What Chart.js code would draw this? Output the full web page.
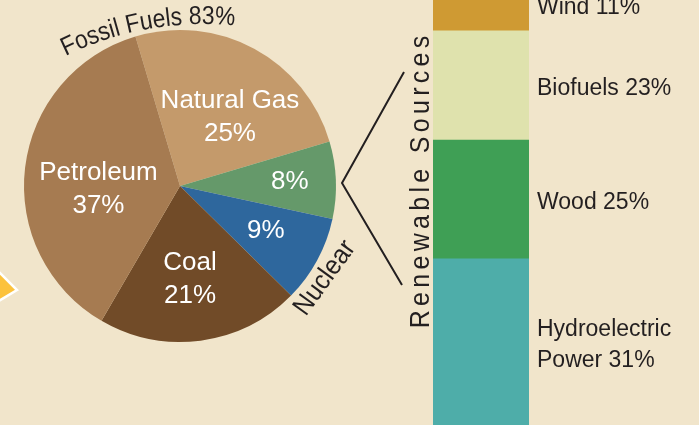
<!DOCTYPE html>
<html>
<head>
<meta charset="utf-8">
<script src="https://cdn.jsdelivr.net/npm/chart.js@4.4.1/dist/chart.umd.min.js"></script>
<style>
  html, body { margin: 0; padding: 0; background: #f1e5cb; overflow: hidden; }
  #wrap { position: relative; width: 699px; height: 425px; }
  #wrap canvas { position: absolute; left: 0; top: 0; }
</style>
</head>
<body>
<div id="wrap">
  <canvas id="pieChart" width="699" height="425"></canvas>
  <canvas id="barChart" width="699" height="425"></canvas>
</div>
<script>
// energy mix (pie), clockwise from the top
const energyLabels = ['Natural Gas', 'Renewable', 'Nuclear', 'Coal', 'Petroleum'];
const energyShares = [25, 8, 9, 21, 37];
const energyColors = ['#c49a6b', '#65996a', '#2e679d', '#714b28', '#a67b51'];
const energyNameShown = [true, false, false, true, true];

// renewable breakdown (stacked bar), bottom to top
const renewableLabels = [['Hydroelectric', 'Power'], ['Wood'], ['Biofuels'], ['Wind']];
const renewableShares = [31, 25, 23, 11];
const renewableColors = ['#4eada9', '#3f9f55', '#dfe2ad', '#cf9a33'];

const fossilTitle = 'Fossil Fuels 83%';
const nuclearTitle = 'Nuclear';
const renewableTitle = 'Renewable Sources';

const FONT = '"Liberation Sans", Arial, sans-serif';
const INK = '#231f20';

// where each slice label sits: fraction of radius, nudge in degrees
const sliceLabelPos = [
  { r: 0.545, turn: 7.6 },
  { r: 0.705, turn: 0.2 },
  { r: 0.62, turn: -1.0 },
  { r: 0.603, turn: 1.5 },
  { r: 0.523, turn: -8.9 }
];

// text along a circle, squeezed a little to look like a condensed face
function drawArcText(ctx, text, ox, oy, radius, midAngle, squeeze) {
  const widths = [...text].map(ch => ctx.measureText(ch).width * squeeze);
  const total = widths.reduce((a, b) => a + b, 0);
  let acc = 0;
  const start = midAngle - total / 2 / radius;
  [...text].forEach((ch, i) => {
    const th = start + (acc + widths[i] / 2) / radius;
    ctx.save();
    ctx.translate(ox + Math.cos(th) * radius, oy + Math.sin(th) * radius);
    ctx.rotate(th + Math.PI / 2);
    ctx.scale(squeeze, 1);
    ctx.fillText(ch, 0, 0);
    ctx.restore();
    acc += widths[i];
  });
}

const pieDecor = {
  id: 'pieDecor',
  afterDatasetsDraw(chart) {
    const ctx = chart.ctx;
    const arcs = chart.getDatasetMeta(0).data;
    const cx = arcs[0].x, cy = arcs[0].y, R = arcs[0].outerRadius;
    ctx.save();

    // slice labels
    ctx.fillStyle = '#ffffff';
    ctx.font = '26px ' + FONT;
    ctx.textAlign = 'center';
    ctx.textBaseline = 'middle';
    arcs.forEach((arc, i) => {
      const pos = sliceLabelPos[i];
      const a = (arc.startAngle + arc.endAngle) / 2 + pos.turn * Math.PI / 180;
      const x = cx + Math.cos(a) * R * pos.r;
      const y = cy + Math.sin(a) * R * pos.r;
      const lines = energyNameShown[i]
        ? [energyLabels[i], energyShares[i] + '%']
        : [energyShares[i] + '%'];
      lines.forEach((t, k) => ctx.fillText(t, x, y + (k - (lines.length - 1) / 2) * 33));
    });

    // curved "Fossil Fuels" title
    ctx.fillStyle = INK;
    ctx.font = '26px ' + FONT;
    ctx.textAlign = 'center';
    ctx.textBaseline = 'alphabetic';
    drawArcText(ctx, fossilTitle, cx + 24, cy + 154, 316, (-90 - 10.2) * Math.PI / 180, 0.88);

    // "Nuclear" along the lower right
    ctx.save();
    ctx.translate(cx + 145, cy + 92);
    ctx.rotate(-54 * Math.PI / 180);
    ctx.scale(0.92, 1);
    ctx.font = '27px ' + FONT;
    ctx.textBaseline = 'middle';
    ctx.fillText(nuclearTitle, 0, 0);
    ctx.restore();

    // bracket to the renewable bar
    ctx.strokeStyle = INK;
    ctx.lineWidth = 2;
    ctx.beginPath();
    ctx.moveTo(cx + 224, cy - 114);
    ctx.lineTo(cx + 162, cy - 3);
    ctx.lineTo(cx + 222, cy + 99);
    ctx.stroke();

    // yellow pointer at the left edge
    ctx.fillStyle = '#fcc23c';
    ctx.strokeStyle = '#ffffff';
    ctx.lineWidth = 2.5;
    ctx.beginPath();
    ctx.moveTo(-8, 265);
    ctx.lineTo(17, 290);
    ctx.lineTo(-8, 305);
    ctx.closePath();
    ctx.fill();
    ctx.stroke();

    ctx.restore();
  }
};

const barDecor = {
  id: 'barDecor',
  afterDatasetsDraw(chart) {
    const ctx = chart.ctx;
    ctx.save();
    ctx.fillStyle = INK;
    ctx.font = '23px ' + FONT;
    ctx.textAlign = 'left';
    ctx.textBaseline = 'middle';
    let barLeft = 0;
    chart.data.datasets.forEach((ds, i) => {
      const bar = chart.getDatasetMeta(i).data[0];
      const right = bar.x + bar.width / 2;
      barLeft = bar.x - bar.width / 2;
      const mid = (bar.y + bar.base) / 2 + 3;
      const lines = renewableLabels[i].slice();
      lines[lines.length - 1] += ' ' + renewableShares[i] + '%';
      lines.forEach((t, k) => ctx.fillText(t, right + 8, mid + (k - (lines.length - 1) / 2) * 31));
    });

    // spaced vertical title
    ctx.font = '25px ' + FONT;
    ctx.textAlign = 'left';
    const spacing = 4.3;
    const chars = [...renewableTitle];
    const widths = chars.map(ch => ctx.measureText(ch).width);
    const total = widths.reduce((a, b) => a + b, 0) + spacing * (chars.length - 1);
    ctx.translate(barLeft - 12, chart.chartArea.top + 182);
    ctx.rotate(-Math.PI / 2);
    ctx.scale(1, 1.12);
    let x = -total / 2;
    chars.forEach((ch, i) => {
      ctx.fillText(ch, x, 0);
      x += widths[i] + spacing;
    });
    ctx.restore();
  }
};

new Chart(document.getElementById('pieChart'), {
  type: 'pie',
  data: {
    labels: energyLabels,
    datasets: [{
      data: energyShares,
      backgroundColor: energyColors,
      borderWidth: 0,
      hoverOffset: 0
    }]
  },
  options: {
    responsive: false,
    animation: false,
    events: [],
    rotation: -16.6,
    layout: { padding: { left: 24, top: 30, right: 363, bottom: 83 } },
    plugins: { legend: { display: false }, tooltip: { enabled: false } }
  },
  plugins: [pieDecor]
});

new Chart(document.getElementById('barChart'), {
  type: 'bar',
  data: {
    labels: ['Renewable Sources'],
    datasets: renewableShares.map((v, i) => Object.assign({
      label: renewableLabels[i].join(' '),
      data: [v],
      backgroundColor: renewableColors[i],
      borderWidth: 0,
      barPercentage: 1,
      categoryPercentage: 1
    }, i === 0 ? { base: -4 } : {}))
  },
  options: {
    responsive: false,
    animation: false,
    events: [],
    layout: { padding: { left: 433, right: 170, top: 0, bottom: 0 } },
    plugins: { legend: { display: false }, tooltip: { enabled: false } },
    scales: {
      x: { display: false, stacked: true },
      y: { display: false, stacked: true, min: -4, max: 85.5 }
    }
  },
  plugins: [barDecor]
});
</script>
</body>
</html>
